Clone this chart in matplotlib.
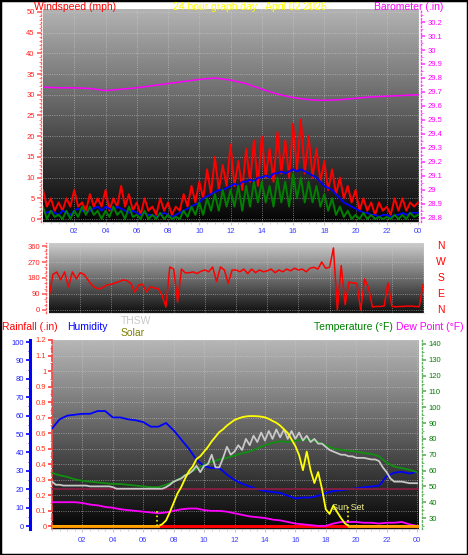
import numpy as np
import matplotlib
matplotlib.use("Agg")
import matplotlib.pyplot as plt
from matplotlib.ticker import MultipleLocator, FormatStrFormatter
from matplotlib.patches import Rectangle

plt.rcParams['font.family'] = ['Liberation Sans', 'DejaVu Sans']

W, H = 468, 555

title = "24 hour graph day : April 02 2026"
hour_ticks = [2, 4, 6, 8, 10, 12, 14, 16, 18, 20, 22, 24]
hour_labels = ['02', '04', '06', '08', '10', '12', '14', '16', '18', '20', '22', '00']

# wind (mph), every 15 minutes
gust = [7, 3, 5, 2,  4, 2, 5, 3,  7, 3, 4, 2,  6, 3, 5, 3,
        7, 2, 5, 3,  8, 3, 6, 2,  4, 1, 5, 2,  3, 1, 5, 2,
        4, 1, 3, 2,  6, 3, 8, 4,  9, 5, 12, 6,  15, 7, 13, 8,
        18, 8, 14, 7,  17, 9, 19, 8,  20, 10, 17, 9,  21, 11, 19, 10,
        23, 12, 24, 11,  20, 10, 17, 9,  14, 7, 12, 6,  10, 5, 8, 4,
        7, 2, 5, 2,  4, 1, 4, 2,  3, 1, 5, 2,  5, 2, 4, 3,  4]
wind_avg = [2, 1.5, 2, 1.5,  1, 2, 1.5, 1,  2, 2.5, 2, 1.5,  2, 2.5, 3, 2,
            3, 2.5, 2, 3,  2.5, 2, 1.5, 2,  1.5, 1, 1.5, 1,  1, 0.5, 1, 1.5,
            1, 0.5, 1, 1.5,  2, 2.5, 3, 3.5,  4, 5, 5.5, 6,  6.5, 7, 7, 7.5,
            8, 8.5, 8, 9,  9, 9.5, 9, 10,  10, 10.5, 10, 11,  11, 11.5, 11, 11.5,
            12, 11.5, 12, 11.5,  11, 10.5, 10, 9,  8, 7.5, 7, 6,  5, 4, 3.5, 3,
            2.5, 2, 1.5, 1.5,  1, 1, 0.5, 1,  1, 0.5, 1, 1,  1.5, 1, 1.5, 1.5,  1.5]
wind_speed = [3, 0, 2, 0.5,  1, 0, 2, 0,  2, 0.5, 3, 1,  3, 1, 2, 0,
              2, 0.5, 3, 1,  2, 0, 3, 0.5,  1, 0, 2, 0,  1, 0, 1.5, 0,
              1, 0, 0.5, 0,  2, 0.5, 3, 1,  4, 1, 5, 2,  6, 2, 7, 3,
              7, 3, 8, 2,  8, 3, 9, 4,  9, 4, 8, 3,  10, 4, 9, 3,
              11, 5, 10, 4,  9, 4, 8, 3,  6, 2, 5, 1,  3, 0.5, 2, 0,
              1, 0, 1.5, 0,  1, 0, 0.5, 0,  0.5, 0, 1, 0,  1, 0, 1.5, 0.5,  1]

# barometer (in), hourly
barometer = [29.735, 29.73, 29.73, 29.725, 29.71, 29.72, 29.73, 29.745, 29.76,
             29.775, 29.79, 29.80, 29.785, 29.76, 29.72, 29.685, 29.66, 29.645,
             29.64, 29.645, 29.655, 29.665, 29.67, 29.675, 29.68]

# wind direction (degrees), every 15 minutes
wind_dir = [70, 200, 214, 170,  214, 130, 214, 175,  210, 200, 169, 140,  124, 118, 130, 141,
            145, 152, 160, 169,  165, 150, 101, 140,  145, 101, 130, 124,  120, 84, 17, 242,
            230, 45, 230, 208,  210, 214, 205, 218,  225, 215, 242, 160,  242, 225, 150, 225,
            225, 215, 230, 205,  230, 210, 225, 215,  220, 230, 210, 225,  215, 230, 220, 235,
            225, 230, 215, 235,  240, 230, 270, 235,  240, 349, 0, 250,  30, 157, 152, 150,
            0, 175, 124, 17,  20, 20, 22, 152,  20, 18, 20, 20,  22, 22, 20, 18,  141]
compass_deg = [360, 270, 180, 90, 0]
compass_labels = ['N', 'W', 'S', 'E', 'N']

# half-hourly
humidity = [53, 58, 60, 60.5, 61, 61, 62.5, 62.5, 59, 59, 58, 57.5, 56.5, 54, 54, 56,
            52, 47, 42, 36, 32.5, 31.5, 31.5, 28, 25, 23, 21.5, 20, 19, 18.5, 18, 16.5,
            15, 15.5, 15.5, 16.5, 18, 19, 19.5, 20, 20.5, 21, 21.5, 22, 27, 29, 29.5, 28.5, 29.5]
temperature = [58.5, 57, 56, 54.5, 53.5, 53, 52.5, 52, 51.5, 51.5, 51, 50.5, 50, 49.5, 49.5, 51,
               53, 55.5, 58.5, 61, 63.5, 65.5, 67, 68, 69.5, 71, 72, 74, 76, 77.5, 78.5, 78,
               79, 79.5, 79.5, 78, 76, 74, 73, 72.5, 72, 71, 70.5, 69, 65, 62.5, 61.5, 60.5, 59]
dew_point = [40, 40, 40, 40, 39.5, 38.5, 38, 37, 36.5, 35.5, 35, 34.5, 34, 33.5, 33, 33.5,
             34.5, 35.5, 36, 36, 35, 34.5, 34.5, 34, 33, 32, 31, 30.5, 30, 29, 28.5, 27.5,
             26.5, 26, 25.5, 25, 25, 26.5, 27.5, 27.5, 27.5, 27, 27, 26.5, 27, 27, 27.5, 26, 25]

# every 15 minutes
thsw = [53, 51, 51, 50.5,  50.5, 50.5, 50.5, 50.5,  50.5, 50.5, 50, 50,  50, 50, 50, 50,
        49.5, 48.5, 48.5, 48.5,  48.5, 48.5, 48.5, 48.5,  48.5, 48.5, 48.5, 48.5,  48.5, 48.5, 49.5, 51,
        53, 54, 55, 57,  58, 60, 63, 59,  63, 64, 70, 62,  62, 68, 75, 70,
        72, 76, 73, 80,  76, 82, 78, 84,  79, 85, 80, 86,  81, 86, 80, 85,
        80, 84, 79, 82,  78, 80, 77, 77,  75, 73, 72, 71,  70, 70, 69, 69,
        68, 68, 68, 67.5,  67, 67, 66, 62,  59, 55, 53, 53,  53, 52.5, 52, 52,  52]
solar = [0, 0, 0, 0,  0, 0, 0, 0,  0, 0, 0, 0,  0, 0, 0, 0,
         0, 0, 0, 0,  0, 0, 0, 0,  0, 0, 0, 0,  0, 10, 30, 75,
         125, 175, 210, 255,  295, 320, 360, 375,  400, 425, 455, 480,  505, 520, 540, 555,
         570, 578, 585, 589,  591, 591, 590, 588,  584, 576, 565, 555,  540, 520, 500, 465,
         430, 380, 300, 400,  300, 231, 290, 200,  90, 65, 110, 75,  43, 15, 0, 0,
         0, 0, 0, 0,  0, 0, 0, 0,  0, 0, 0, 0,  0, 0, 0, 0,  0]
rainfall = [0.00, 0.00, 0.00, 0.00, 0.00, 0.00, 0.00, 0.00, 0.00, 0.00, 0.00, 0.00, 0.00,
            0.00, 0.00, 0.00, 0.00, 0.00, 0.00, 0.00, 0.00, 0.00, 0.00, 0.00, 0.00]
ref_level = 48.3
sunrise, sunset = 6.9, 19.45

t15 = np.arange(len(gust)) / 4
t30 = np.arange(len(humidity)) / 2
t60 = np.arange(len(barometer))


def box(x0, y0, x1, y1):
    return [x0 / W, 1 - y1 / H, (x1 - x0) / W, (y1 - y0) / H]


def backdrop(ax, top, bottom):
    grad = np.linspace(top, bottom, 256).reshape(-1, 1)
    x0, x1 = ax.get_xlim()
    y0, y1 = ax.get_ylim()
    ax.imshow(grad, cmap='gray', vmin=0, vmax=1, aspect='auto',
              extent=[x0, x1, y0, y1], origin='upper', zorder=0)
    ax.set_xlim(x0, x1)
    ax.set_ylim(y0, y1)


def only_spine(ax, side, color, ls=':', lw=1.0):
    for s in ax.spines:
        ax.spines[s].set_visible(s == side)
    ax.spines[side].set_color(color)
    ax.spines[side].set_linestyle(ls)
    ax.spines[side].set_linewidth(lw)


fs = 5.5
grid_kw = dict(color='#d0d0d0', linestyle=':', linewidth=0.6, alpha=0.7)

fig = plt.figure(figsize=(W / 100, H / 100), dpi=100)

# ---- wind speed / barometer
ax1 = fig.add_axes(box(43, 9, 419, 222))
ax1.set_xlim(0, 24.06)
ax1.set_ylim(-0.72, 50.7)
backdrop(ax1, 0.70, 0.02)
ax1.plot(t15, gust, color='#ff0000', lw=1.4, zorder=3)
ax1.plot(t15, wind_avg, color='#0000ff', lw=1.3, zorder=4)
ax1.plot(t15, wind_speed, color='#008000', lw=1.4, zorder=5)
ax1.yaxis.set_major_locator(MultipleLocator(5))
ax1.yaxis.set_minor_locator(MultipleLocator(1))
ax1.set_xticks(hour_ticks)
ax1.set_xticklabels(hour_labels)
ax1.xaxis.set_minor_locator(MultipleLocator(0.5))
ax1.grid(True, **grid_kw)
only_spine(ax1, 'left', '#ff6060')
ax1.spines['bottom'].set_visible(True)
ax1.spines['bottom'].set_color('#c8c8c8')
ax1.spines['left'].set_position(('outward', 1.5))
ax1.tick_params(axis='y', colors='#ff6060', labelcolor='#ff2020', labelsize=fs,
                length=3, width=1.2, pad=1.5)
ax1.tick_params(axis='y', which='minor', colors='#ff6060', length=1.5)
ax1.tick_params(axis='x', colors='#c8c8c8', labelcolor='#3c3cff', labelsize=fs,
                length=2.5, pad=2)
ax1.tick_params(axis='x', which='minor', colors='#c8c8c8', length=1.5)

axb = ax1.twinx()
axb.set_ylim(28.771, 30.293)
axb.plot(t60, barometer, color='#ff00ff', lw=1.1, zorder=3)
axb.yaxis.set_major_locator(MultipleLocator(0.1))
axb.yaxis.set_minor_locator(MultipleLocator(0.05))
axb.yaxis.set_major_formatter(FormatStrFormatter('%g'))
only_spine(axb, 'right', '#ff40ff')
axb.spines['right'].set_position(('outward', 1.5))
axb.tick_params(axis='y', colors='#ff40ff', labelcolor='#ff00ff', labelsize=fs,
                length=3, width=1.2, pad=2)
axb.tick_params(axis='y', which='minor', colors='#ff40ff', length=1.5)

# ---- wind direction
ax2 = fig.add_axes(box(49, 243, 424, 313))
ax2.set_xlim(0, 24.06)
ax2.set_ylim(-17, 377)
backdrop(ax2, 0.80, 0.06)
ax2.plot(t15, wind_dir, color='#ff0000', lw=1.1, zorder=3)
ax2.set_yticks([0, 90, 180, 270, 360])
ax2.yaxis.set_minor_locator(MultipleLocator(30))
ax2.set_xticks(hour_ticks)
ax2.grid(True, **grid_kw)
only_spine(ax2, 'left', '#ff6060')
ax2.spines['bottom'].set_visible(True)
ax2.spines['bottom'].set_color('#e0e0e0')
ax2.spines['left'].set_position(('outward', 2))
ax2.tick_params(axis='y', colors='#ff6060', labelcolor='#ff2020', labelsize=fs,
                length=3, width=1.2, pad=1.5)
ax2.tick_params(axis='y', which='minor', colors='#ff6060', length=1.5)
ax2.tick_params(axis='x', length=0, labelbottom=False)
for deg, lab in zip(compass_deg, compass_labels):
    ax2.text(1.045, deg, lab, transform=ax2.get_yaxis_transform(), color='#ff0000',
             fontsize=7.5, ha='center', va='center')

# ---- rain / humidity / temperature / solar
ax3 = fig.add_axes(box(52, 340, 419, 529))
ax3.set_xlim(0, 24.13)
ax3.set_ylim(-0.019, 1.2)
backdrop(ax3, 0.72, 0.02)
ax3.plot(t60, rainfall, color='#ff0000', lw=2.2, zorder=3)
ax3.yaxis.set_major_locator(MultipleLocator(0.1))
ax3.yaxis.set_minor_locator(MultipleLocator(0.05))
ax3.yaxis.set_major_formatter(FormatStrFormatter('%g'))
ax3.set_xticks(hour_ticks)
ax3.set_xticklabels(hour_labels)
ax3.xaxis.set_minor_locator(MultipleLocator(0.5))
ax3.grid(True, **grid_kw)
only_spine(ax3, 'left', '#ff4040', ls='--', lw=1.2)
ax3.spines['bottom'].set_visible(True)
ax3.spines['bottom'].set_color('#c8c8c8')
ax3.tick_params(axis='y', colors='#ff4040', labelcolor='#ff3010', labelsize=fs,
                length=3, width=1.2, pad=1)
ax3.tick_params(axis='y', which='minor', colors='#ff4040', length=1.5)
ax3.tick_params(axis='x', colors='#c8c8c8', labelcolor='#3c3cff', labelsize=fs,
                length=2.5, pad=3)
ax3.tick_params(axis='x', which='minor', colors='#c8c8c8', length=1.5)

axh = ax3.twinx()
axh.set_ylim(-1.6, 101.1)
axh.plot(t30, humidity, color='#0000ff', lw=1.3, zorder=3)
axh.yaxis.tick_left()
axh.yaxis.set_major_locator(MultipleLocator(10))
axh.yaxis.set_minor_locator(MultipleLocator(5))
only_spine(axh, 'left', '#0000ff', ls='-', lw=2.2)
axh.spines['left'].set_position(('axes', -22 / 367))
axh.tick_params(axis='y', colors='#0000ff', labelcolor='#2020ff', labelsize=fs,
                length=3, width=1.2, pad=1.5)
axh.tick_params(axis='y', which='minor', colors='#0000ff', length=1.5)

axt = ax3.twinx()
axt.set_ylim(23.05, 142.5)
axt.axhline(ref_level, color='#802040', lw=1.4, zorder=2)
axt.plot(t30, dew_point, color='#ff00ff', lw=1.3, zorder=3)
axt.plot(t30, temperature, color='#109010', lw=1.3, zorder=4)
axt.plot(t15, thsw, color='#c8c8c8', lw=1.3, zorder=5)
axt.set_yticks(np.arange(30, 150, 10))
axt.yaxis.set_minor_locator(MultipleLocator(5))
only_spine(axt, 'right', '#60b060')
axt.spines['right'].set_position(('outward', 2))
axt.tick_params(axis='y', colors='#60b060', labelcolor='#008000', labelsize=fs,
                length=3, width=1.2, pad=2)
axt.tick_params(axis='y', which='minor', colors='#60b060', length=1.5)

axs = ax3.twinx()
axs.set_ylim(-16.1, 1000)
axs.set_yticks([])
for s in axs.spines.values():
    s.set_visible(False)
solar_arr = np.array(solar, dtype=float)
axs.plot(t15, solar_arr, color='#ffff00', lw=1.3, zorder=3)
axs.plot(t15, np.where(solar_arr > 0, np.nan, solar_arr), color='#ffa000', lw=2.0, zorder=4)
axs.vlines([sunrise], 0, 80, colors='#ffff00', linestyles=':', lw=1.2, zorder=5)
axs.vlines([sunset], 0, 100, colors='#ffff00', linestyles=':', lw=1.2, zorder=5)
axs.text(sunset, 102, 'Sun Set', color='#f0f090', fontsize=6.5, ha='center', va='center', zorder=6)


# ---- header texts
def ftext(x, y, s, color):
    fig.text(x / W, 1 - y / H, s, color=color, fontsize=7.5, va='baseline', ha='left')


ftext(34, 9.5, 'Windspeed (mph)', '#ff0000')
ftext(173, 9.5, title, '#ffff00')
ftext(374, 9.5, 'Barometer (.in)', '#ff00ff')
ftext(2, 330.5, 'Rainfall (.in)', '#ff0000')
ftext(67, 330.5, 'Humidity', '#0000ff')
ftext(121, 323.5, 'THSW', '#c8c8c8')
ftext(121, 336, 'Solar', '#808000')
ftext(314, 330.5, 'Temperature (°F)', '#008000')
ftext(396, 330.5, 'Dew Point (°F)', '#ff00ff')

fig.add_artist(Rectangle((0, 0), 1, 1, transform=fig.transFigure, fill=False,
                         edgecolor='black', linewidth=2.5))

fig.savefig('out.png', dpi=100, facecolor='white')
